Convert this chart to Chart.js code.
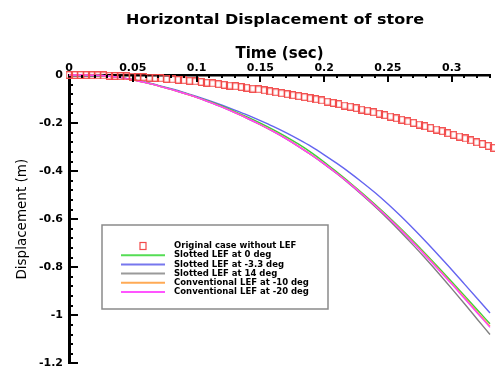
<!DOCTYPE html>
<html>
<head>
<meta charset="utf-8">
<script src="https://cdn.jsdelivr.net/npm/chart.js@4.4.1/dist/chart.umd.min.js"></script>
<style>
  html, body { margin: 0; padding: 0; background: #fff; overflow: hidden; }
  #wrap { position: relative; width: 495px; height: 376px; }
</style>
</head>
<body>
<div id="wrap"><canvas id="chart" width="495" height="376"></canvas></div>
<script>
// axis ticks
const xTicks = [0, 0.05, 0.1, 0.15, 0.2, 0.25, 0.3];
const xTickLabels = ['0', '0.05', '0.1', '0.15', '0.2', '0.25', '0.3'];
const yTicks = [0, -0.2, -0.4, -0.6, -0.8, -1, -1.2];
const yTickLabels = ['0', '-0.2', '-0.4', '-0.6', '-0.8', '-1', '-1.2'];

const seriesNames = [
  'Original case without LEF',
  'Slotted LEF at 0 deg',
  'Slotted LEF at -3.3 deg',
  'Slotted LEF at 14 deg',
  'Conventional LEF at -10 deg',
  'Conventional LEF at -20 deg'
];

// original case (square markers)
const redTime = [0, 0.0045, 0.009, 0.0135, 0.018, 0.0225, 0.027, 0.0315, 0.036, 0.0405,
  0.045, 0.0495, 0.054, 0.0585, 0.063, 0.0675, 0.072, 0.0765, 0.081, 0.0855,
  0.09, 0.0945, 0.099, 0.1035, 0.108, 0.1125, 0.117, 0.1215, 0.126, 0.1305,
  0.135, 0.1395, 0.144, 0.1485, 0.153, 0.1575, 0.162, 0.1665, 0.171, 0.1755,
  0.18, 0.1845, 0.189, 0.1935, 0.198, 0.2025, 0.207, 0.2115, 0.216, 0.2205,
  0.225, 0.2295, 0.234, 0.2385, 0.243, 0.2475, 0.252, 0.2565, 0.261, 0.2655,
  0.27, 0.2745, 0.279, 0.2835, 0.288, 0.2925, 0.297, 0.3015, 0.306, 0.3105,
  0.315, 0.3195, 0.324, 0.3285, 0.333];
const redDisp = [0, 0, 0, -0.0005, -0.001, -0.0015, -0.002, -0.003, -0.004, -0.005,
  -0.006, -0.007, -0.008, -0.009, -0.011, -0.012, -0.014, -0.016, -0.018, -0.02,
  -0.022, -0.024, -0.027, -0.029, -0.032, -0.035, -0.038, -0.041, -0.044, -0.047,
  -0.05, -0.053, -0.057, -0.06, -0.064, -0.068, -0.072, -0.076, -0.08, -0.084,
  -0.088, -0.092, -0.097, -0.101, -0.106, -0.111, -0.116, -0.121, -0.127, -0.132,
  -0.138, -0.144, -0.149, -0.155, -0.161, -0.167, -0.173, -0.18, -0.186, -0.193,
  -0.199, -0.206, -0.213, -0.22, -0.227, -0.234, -0.242, -0.249, -0.256, -0.264,
  -0.272, -0.28, -0.287, -0.295, -0.303];

// LEF cases (lines)
const lineTime = [0, 0.01, 0.02, 0.03, 0.04, 0.05, 0.06, 0.07, 0.08, 0.09,
  0.1, 0.11, 0.12, 0.13, 0.14, 0.15, 0.16, 0.17, 0.18, 0.19,
  0.2, 0.21, 0.22, 0.23, 0.24, 0.25, 0.26, 0.27, 0.28, 0.29,
  0.3, 0.31, 0.32, 0.33];
const slotted0 = [0, 0, -0.001, -0.004, -0.01, -0.02, -0.031, -0.044, -0.059, -0.075,
  -0.092, -0.11, -0.13, -0.152, -0.175, -0.2, -0.227, -0.256, -0.288, -0.323,
  -0.362, -0.404, -0.447, -0.492, -0.539, -0.588, -0.639, -0.692, -0.747, -0.803,
  -0.86, -0.918, -0.977, -1.035];
const slottedM33 = [0, 0, -0.001, -0.004, -0.01, -0.019, -0.03, -0.043, -0.057, -0.072,
  -0.089, -0.107, -0.126, -0.146, -0.167, -0.19, -0.214, -0.24, -0.268, -0.298,
  -0.332, -0.368, -0.406, -0.447, -0.49, -0.537, -0.587, -0.64, -0.695, -0.752,
  -0.81, -0.87, -0.93, -0.99];
const slotted14 = [0, 0, -0.001, -0.004, -0.01, -0.02, -0.032, -0.045, -0.06, -0.076,
  -0.093, -0.113, -0.134, -0.157, -0.181, -0.207, -0.235, -0.265, -0.298, -0.333,
  -0.371, -0.411, -0.454, -0.5, -0.548, -0.599, -0.653, -0.709, -0.767, -0.827,
  -0.889, -0.952, -1.016, -1.08];
const conv10 = [0, 0, -0.001, -0.004, -0.01, -0.02, -0.032, -0.045, -0.06, -0.076,
  -0.093, -0.112, -0.133, -0.156, -0.18, -0.206, -0.234, -0.264, -0.297, -0.332,
  -0.369, -0.409, -0.451, -0.496, -0.543, -0.592, -0.643, -0.697, -0.752, -0.809,
  -0.867, -0.926, -0.986, -1.045];
const conv20 = [0, 0, -0.001, -0.004, -0.01, -0.02, -0.032, -0.045, -0.06, -0.076,
  -0.093, -0.113, -0.134, -0.157, -0.181, -0.207, -0.235, -0.265, -0.298, -0.333,
  -0.37, -0.41, -0.452, -0.497, -0.544, -0.593, -0.645, -0.699, -0.755, -0.812,
  -0.87, -0.93, -0.99, -1.05];

const FONT = '"DejaVu Sans", sans-serif';
const RED = '#f24a4a';

function pts(xs, ys) {
  return xs.map((x, i) => ({ x: x, y: ys[i] }));
}

// hollow marker, a little taller than wide
function makeMarker() {
  const c = document.createElement('canvas');
  c.width = 7; c.height = 8;
  const g = c.getContext('2d');
  g.strokeStyle = RED;
  g.lineWidth = 1.3;
  g.strokeRect(0.7, 0.7, 5.6, 6.6);
  return c;
}
const marker = makeMarker();

function lineSet(name, values, color, swatch, order) {
  return {
    label: name,
    data: pts(lineTime, values),
    borderColor: color,
    swatchColor: swatch,
    borderWidth: 1.4,
    pointRadius: 0,
    fill: false,
    cubicInterpolationMode: 'monotone',
    order: order
  };
}

// title text above the top axis
const titlePlugin = {
  id: 'titleText',
  afterDraw(chart) {
    const ctx = chart.ctx;
    const text = 'Horizontal Displacement of store';
    ctx.save();
    ctx.fillStyle = '#000';
    ctx.font = 'bold 13.5px ' + FONT;
    ctx.textBaseline = 'middle';
    const w = ctx.measureText(text).width;
    ctx.translate(126, 20);
    ctx.scale(298 / w, 1);
    ctx.fillText(text, 0, 0);
    ctx.restore();
  }
};

// inward tick marks
const tickPlugin = {
  id: 'innerTicks',
  afterDraw(chart) {
    const ctx = chart.ctx;
    const xs = chart.scales.x, ys = chart.scales.y;
    const top = chart.chartArea.top, left = chart.chartArea.left;
    ctx.save();
    ctx.strokeStyle = '#000';
    ctx.lineWidth = 2;
    ctx.beginPath();
    for (let i = 1; i <= 33; i++) {
      const px = Math.round(xs.getPixelForValue(i / 100));
      const len = i % 5 === 0 ? 7 : 3;
      ctx.moveTo(px, top);
      ctx.lineTo(px, top + len);
    }
    for (let i = 1; i <= 30; i++) {
      const py = Math.round(ys.getPixelForValue(-i * 0.04));
      const len = i % 5 === 0 ? 9 : 4;
      ctx.moveTo(left, py);
      ctx.lineTo(left + len, py);
    }
    ctx.stroke();
    ctx.restore();
  }
};

// boxed legend inside the plot
const legendPlugin = {
  id: 'boxLegend',
  afterDatasetsDraw(chart) {
    const ctx = chart.ctx;
    ctx.save();
    ctx.fillStyle = '#fff';
    ctx.fillRect(102, 225, 226, 84);
    ctx.strokeStyle = '#8a8a8a';
    ctx.lineWidth = 1.5;
    ctx.strokeRect(102, 225, 226, 84);
    ctx.font = 'bold 8.5px ' + FONT;
    ctx.textBaseline = 'middle';
    chart.data.datasets.forEach((ds, i) => {
      const y = 246 + i * 9.2;
      if (ds.showLine === false) {
        ctx.strokeStyle = RED;
        ctx.lineWidth = 1.2;
        ctx.strokeRect(140, y - 3.5, 6, 7);
      } else {
        ctx.strokeStyle = ds.swatchColor;
        ctx.lineWidth = 2;
        ctx.beginPath();
        ctx.moveTo(121, y);
        ctx.lineTo(165, y);
        ctx.stroke();
      }
      ctx.fillStyle = '#000';
      ctx.fillText(ds.label, 174, y);
    });
    ctx.restore();
  }
};

new Chart(document.getElementById('chart'), {
  type: 'line',
  data: {
    datasets: [
      {
        label: seriesNames[0],
        data: pts(redTime, redDisp),
        showLine: false,
        pointStyle: marker,
        pointRadius: 4,
        borderColor: RED,
        backgroundColor: 'rgba(0,0,0,0)',
        order: 0
      },
      lineSet(seriesNames[1], slotted0, '#3ccc3c', '#55dd55', 4),
      lineSet(seriesNames[2], slottedM33, '#6464f0', '#7777ee', 5),
      lineSet(seriesNames[3], slotted14, '#808080', '#9a9a9a', 3),
      lineSet(seriesNames[4], conv10, '#ffa040', '#ffaa55', 2),
      lineSet(seriesNames[5], conv20, '#ff40ff', '#ff55ff', 1)
    ]
  },
  options: {
    responsive: false,
    animation: false,
    events: [],
    clip: false,
    layout: { padding: { top: 0, left: 0, right: 0, bottom: 7 } },
    plugins: {
      legend: { display: false },
      title: { display: false },
      tooltip: { enabled: false }
    },
    scales: {
      x: {
        type: 'linear',
        position: 'top',
        min: 0,
        max: 0.33,
        afterBuildTicks(scale) { scale.ticks = xTicks.map(v => ({ value: v })); },
        afterFit(scale) { scale.height = 75; },
        ticks: {
          callback: (v, i) => xTickLabels[i],
          font: { family: FONT, size: 11, weight: 'bold' },
          color: '#000',
          padding: 0,
          maxRotation: 0,
          autoSkip: false
        },
        grid: { display: false, drawTicks: false },
        border: { display: true, color: '#000', width: 2.5 },
        title: {
          display: true,
          text: 'Time (sec)',
          font: { family: FONT, size: 15, weight: 'bold' },
          color: '#000',
          padding: { top: 45, bottom: 0 }
        }
      },
      y: {
        type: 'linear',
        min: -1.2,
        max: 0,
        afterBuildTicks(scale) { scale.ticks = yTicks.map(v => ({ value: v })); },
        afterFit(scale) { scale.width = 69; },
        ticks: {
          callback: (v, i) => yTickLabels[i],
          font: { family: FONT, size: 11, weight: 'bold' },
          color: '#000',
          padding: 6,
          autoSkip: false
        },
        grid: { display: false, drawTicks: false },
        border: { display: true, color: '#000', width: 3 },
        title: {
          display: true,
          text: 'Displacement (m)',
          font: { family: FONT, size: 13.5 },
          color: '#000',
          padding: { top: 14, bottom: 0 }
        }
      }
    }
  },
  plugins: [titlePlugin, tickPlugin, legendPlugin]
});
</script>
</body>
</html>
